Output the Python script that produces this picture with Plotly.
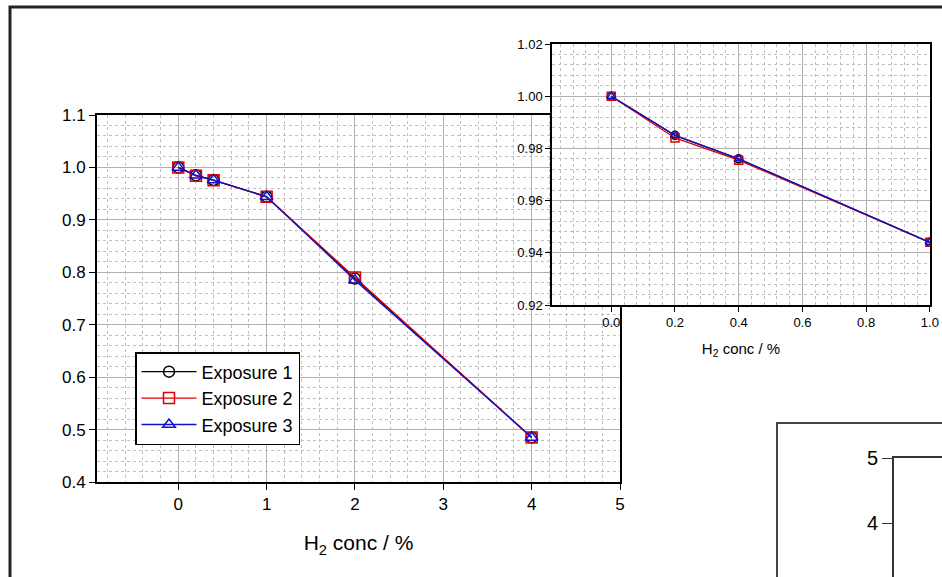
import plotly.graph_objects as go

# ---- data ----
h2_conc = [0, 0.2, 0.4, 1, 2, 4]
exposure1 = [1.000, 0.985, 0.976, 0.944, 0.788, 0.485]
exposure2 = [1.000, 0.984, 0.9755, 0.944, 0.790, 0.485]
exposure3 = [1.000, 0.985, 0.976, 0.944, 0.785, 0.485]
series_names = ["Exposure 1", "Exposure 2", "Exposure 3"]
inset_n = 4  # inset shows points up to 1 %

W, H = 942, 577
FONT = "Liberation Sans, Arial, sans-serif"

def px_x(p):
    return p / W

def px_y(p):
    return (H - p) / H

styles = [
    dict(color="black", symbol="circle-open"),
    dict(color="#e00000", symbol="square-open"),
    dict(color="#1010d0", symbol="triangle-up-open"),
]
series = [exposure1, exposure2, exposure3]

fig = go.Figure()
for name, ys, st in zip(series_names, series, styles):
    fig.add_trace(go.Scatter(
        x=h2_conc, y=ys, name=name, mode="lines+markers",
        line=dict(color=st["color"], width=1.3),
        marker=dict(symbol=st["symbol"], size=11, color=st["color"],
                    line=dict(width=1.5, color=st["color"])),
        xaxis="x", yaxis="y"))
for name, ys, st in zip(series_names, series, styles):
    fig.add_trace(go.Scatter(
        x=h2_conc[:inset_n], y=ys[:inset_n], name=name, mode="lines+markers",
        showlegend=False,
        line=dict(color=st["color"], width=1.3),
        marker=dict(symbol=st["symbol"], size=8, color=st["color"],
                    line=dict(width=1.5, color=st["color"])),
        xaxis="x2", yaxis="y2"))
# third (cut-off) chart axes only
fig.add_trace(go.Scatter(x=[], y=[], xaxis="x3", yaxis="y3", showlegend=False))

grid_major = "#b0b0b0"
grid_minor = "#c0c0c0"

common = dict(showline=True, linecolor="black", mirror=True, zeroline=False,
              showgrid=True, gridcolor=grid_major, gridwidth=1,
              ticks="outside", tickcolor="black", automargin=False)

fig.update_layout(
    width=W, height=H,
    margin=dict(l=0, r=0, t=0, b=0, pad=0, autoexpand=False),
    paper_bgcolor="white", plot_bgcolor="white",
    font=dict(family=FONT, color="black"),
    showlegend=True,
    legend=dict(x=px_x(135), y=px_y(352), xanchor="left", yanchor="top",
                bgcolor="white", bordercolor="black", borderwidth=1.5,
                itemwidth=55,
                font=dict(size=18, family=FONT)),
    xaxis=dict(domain=[px_x(97), px_x(620)], range=[-0.92, 5], anchor="y",
               tick0=0, dtick=1, ticklen=6, linewidth=2,
               tickfont=dict(size=17),
               minor=dict(tick0=0, dtick=0.2, showgrid=True, griddash="dot",
                          gridcolor=grid_minor, ticks=""),
               title=dict(text="H<sub>2</sub> conc / %", font=dict(size=21), standoff=22),
               **common),
    yaxis=dict(domain=[px_y(482), px_y(115)], range=[0.4, 1.1], anchor="x",
               tick0=0.4, dtick=0.1, tickformat=".1f", ticklen=6, linewidth=2,
               tickfont=dict(size=17),
               minor=dict(tick0=0.4, dtick=0.02, showgrid=True, griddash="dot",
                          gridcolor=grid_minor, ticks=""),
               **common),
    xaxis2=dict(domain=[px_x(552), px_x(930)], range=[-0.186, 1.0005], anchor="y2",
                tick0=0, dtick=0.2, tickformat=".1f", ticklen=5, linewidth=1.5,
                tickfont=dict(size=13),
                minor=dict(tick0=0, dtick=0.04, showgrid=True, griddash="dot",
                           gridcolor=grid_minor, ticks=""),
                title=dict(text="H<sub>2</sub> conc / %", font=dict(size=15), standoff=14),
                **common),
    yaxis2=dict(domain=[px_y(305), px_y(44)], range=[0.92, 1.02], anchor="x2",
                tick0=0.92, dtick=0.02, tickformat=".2f", ticklen=5, linewidth=1.5,
                tickfont=dict(size=13),
                minor=dict(tick0=0.92, dtick=0.004, showgrid=True, griddash="dot",
                           gridcolor=grid_minor, ticks=""),
                **common),
    xaxis3=dict(domain=[px_x(894), 1], range=[0, 1], anchor="y3", side="top",
                showline=True, linecolor="#333", linewidth=2, showgrid=False,
                zeroline=False, showticklabels=False, ticks="", automargin=False),
    yaxis3=dict(domain=[0, px_y(458)], range=[5 - (H - 458) / 65.0, 5], anchor="x3",
                tick0=0, dtick=1, ticks="outside", ticklen=10, tickcolor="#333",
                showline=True, linecolor="#333", linewidth=2, showgrid=False,
                zeroline=False, tickfont=dict(size=20), automargin=False),
    shapes=[
        dict(type="rect", xref="paper", yref="paper",
             x0=px_x(10), x1=1.05, y0=-0.05, y1=px_y(7),
             line=dict(color="#222", width=3), fillcolor="rgba(0,0,0,0)"),
        dict(type="rect", xref="paper", yref="paper",
             x0=px_x(777), x1=1.05, y0=-0.05, y1=px_y(423),
             line=dict(color="#444", width=2), fillcolor="rgba(0,0,0,0)"),
    ],
)

fig.write_html(
    "out.html",
    config={"displayModeBar": False},
    post_script="document.body.style.margin='0';document.body.style.overflow='hidden';",
)
